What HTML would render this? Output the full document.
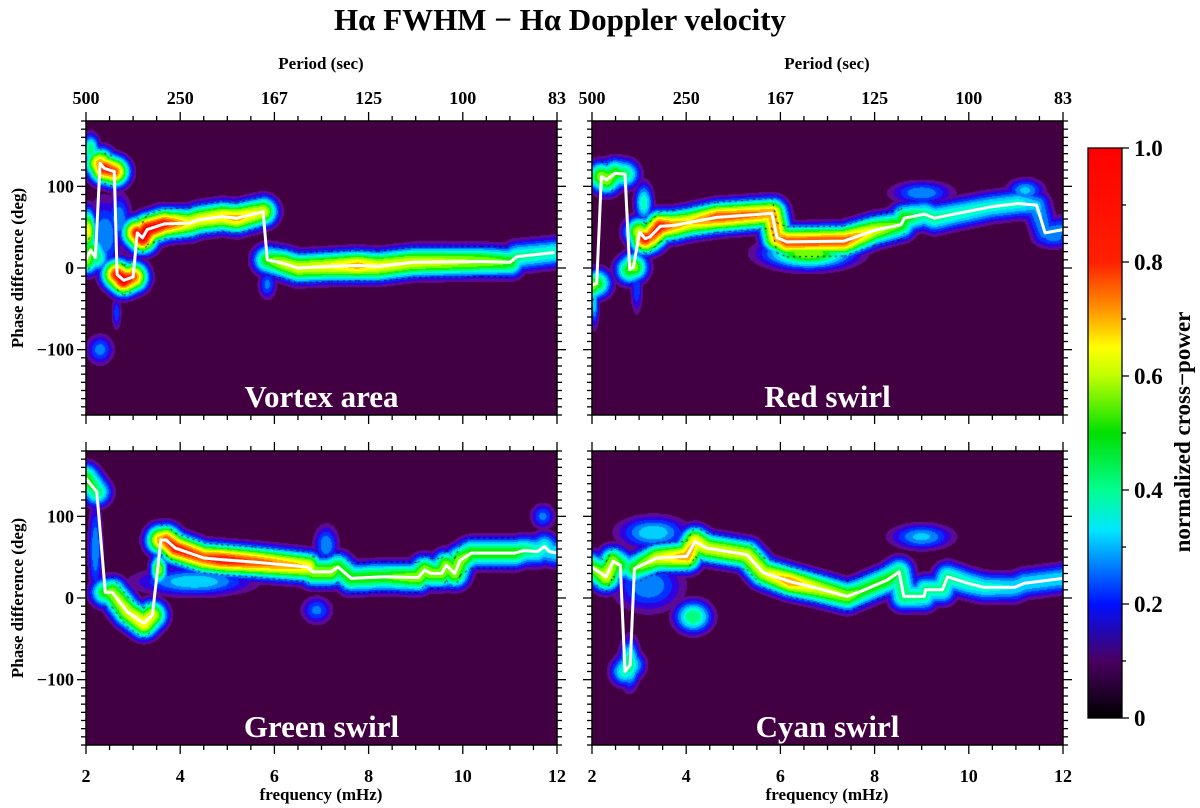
<!DOCTYPE html>
<html><head><meta charset="utf-8"><style>
html,body{margin:0;padding:0;background:#fff;}
#wrap{position:relative;width:1200px;height:808px;overflow:hidden;font-family:"Liberation Serif",serif;}
canvas,svg{position:absolute;left:0;top:0;}
</style></head><body>
<div id="wrap">
<canvas id="cv" width="1200" height="808"></canvas>
<svg id="sv" width="1200" height="808" font-family="Liberation Serif, serif" font-weight="bold">
<text x="560" y="30" font-size="31" text-anchor="middle">Hα FWHM − Hα Doppler velocity</text>
<text x="321" y="69" font-size="17" text-anchor="middle">Period (sec)</text>
<text x="827" y="69" font-size="17" text-anchor="middle">Period (sec)</text>
<text x="321" y="800" font-size="17" text-anchor="middle">frequency (mHz)</text>
<text x="827" y="800" font-size="17" text-anchor="middle">frequency (mHz)</text>
<text transform="translate(23,268) rotate(-90)" font-size="17" text-anchor="middle">Phase difference (deg)</text>
<text transform="translate(23,598) rotate(-90)" font-size="17" text-anchor="middle">Phase difference (deg)</text>
<text transform="translate(1190,432) rotate(-90)" font-size="23" text-anchor="middle">normalized cross−power</text>
</svg>
</div>
<script>
// ---------- data ----------
const panelTitles=["Vortex area","Red swirl","Green swirl","Cyan swirl"];
const freqTicks=[2,4,6,8,10,12];
const periodTicks=["500","250","167","125","100","83"];
const phaseTicks=[-100,0,100];
const cbTicks=[0,0.2,0.4,0.6,0.8,1.0];
const cbTickLabels=["0","0.2","0.4","0.6","0.8","1.0"];

const freq0=[2.0,2.1,2.2,2.3,2.39,2.6,2.66,2.8,3.0,3.09,3.2,3.3,3.66,4.2,4.4,4.9,5.2,5.76,5.85,6.17,6.5,7.2,7.77,8.2,8.95,10.4,11.0,11.15,11.95];
const phase0=[10,22,13,128,122,118,-8,-15,-11,43,37,47,54,55,59,63,61,69,10,6,0,2,3,2,7,8,7,14,19];
const power0=[.55,.5,.45,.7,.8,.75,.8,.85,.75,.8,.85,.85,.8,.62,.62,.65,.68,.6,.5,.58,.6,.62,.68,.62,.6,.55,.5,.42,.4];
const freq1=[2.0,2.1,2.2,2.31,2.49,2.7,2.8,2.88,3.01,3.13,3.23,3.45,3.73,4.08,4.65,5.82,5.93,6.14,7.35,7.99,8.56,8.63,9.06,9.27,9.77,10.48,11.05,11.44,11.62,12.0];
const phase1=[-21,-19,112,108,116,115,-2,1,44,36,38,51,52,56,62,67,37,32,33,46,53,61,66,61,67,75,79,77,43,47];
const power1=[.55,.5,.55,.55,.5,.45,.5,.55,.6,.8,.75,.8,.7,.65,.75,.7,.7,.75,.75,.6,.5,.5,.42,.42,.4,.38,.38,.32,.28,.28];
const freq2=[1.99,2.23,2.41,2.56,2.88,3.23,3.41,3.59,3.7,3.9,4.5,4.87,5.58,6.71,6.82,7.2,7.35,7.63,8.34,9.05,9.19,9.33,9.55,9.65,9.83,9.94,10.18,11.1,11.3,11.59,11.73,11.84,12.0];
const phase2=[147,130,7,7,-17,-31,-21,71,71,61,49,47,44,38,32,32,38,24,26,25,34,30,30,40,30,46,55,55,58,57,63,57,55];
const power2=[.5,.45,.5,.55,.6,.65,.6,.7,.75,.8,.75,.8,.75,.65,.55,.55,.5,.5,.5,.55,.55,.55,.55,.55,.55,.55,.5,.5,.45,.4,.38,.36,.35];
const freq3=[1.99,2.3,2.45,2.6,2.7,2.81,2.9,3.38,4.01,4.19,4.44,5.29,5.64,6.21,6.78,7.42,7.7,8.27,8.52,8.62,9.05,9.08,9.44,9.55,9.98,10.33,10.97,11.18,12.0];
const phase3=[38,26,45,40,-90,-82,36,49,51,69,61,53,31,20,12,2,8,22,32,2,2,10,10,26,18,13,13,18,24];
const power3=[.5,.6,.55,.5,.4,.4,.5,.6,.7,.65,.6,.6,.6,.7,.6,.55,.5,.5,.45,.45,.42,.42,.42,.42,.4,.38,.35,.35,.35];

// secondary power blobs: centre freq, centre phase, power, width (mHz), width (deg)
const blobFreq0=[2.05,2.1,2.3,2.65,2.4,5.85,2.7];
const blobPhase0=[45,145,-100,-55,40,-20,60];
const blobPower0=[.62,.45,.28,.24,.3,.27,.3];
const blobSF0=[.12,.14,.22,.08,.3,.15,.2];
const blobSP0=[20,14,14,16,34,14,24];
const blobFreq1=[3.1,6.6,9.0,11.2,11.8,2.95,2.05];
const blobPhase1=[80,18,92,95,38,-25,-40];
const blobPower1=[.4,.55,.3,.32,.28,.25,.35];
const blobSF1=[.15,.7,.5,.3,.35,.1,.08];
const blobSP1=[18,14,11,11,11,24,24];
const blobFreq2=[4.3,7.1,6.9,11.7,3.55,2.2];
const blobPhase2=[20,65,-15,100,35,60];
const blobPower2=[.35,.3,.27,.27,.55,.3];
const blobSF2=[.9,.2,.25,.2,.14,.12];
const blobSP2=[13,18,13,12,14,44];
const blobFreq3=[2.8,4.15,9.0,3.2,3.3];
const blobPhase3=[-80,-23,75,15,80];
const blobPower3=[.45,.45,.32,.3,.35];
const blobSF3=[.16,.3,.5,.55,.55];
const blobSP3=[22,15,12,24,15];

const FREQS=[freq0,freq1,freq2,freq3], PHASES=[phase0,phase1,phase2,phase3], POWERS=[power0,power1,power2,power3];
const BF=[blobFreq0,blobFreq1,blobFreq2,blobFreq3], BP=[blobPhase0,blobPhase1,blobPhase2,blobPhase3],
      BV=[blobPower0,blobPower1,blobPower2,blobPower3], BSF=[blobSF0,blobSF1,blobSF2,blobSF3], BSP=[blobSP0,blobSP1,blobSP2,blobSP3];

// ---------- layout ----------
const PANELS=[{x0:86,x1:557,y0:121,y1:415},{x0:592,x1:1063,y0:121,y1:415},{x0:86,x1:557,y0:451,y1:745},{x0:592,x1:1063,y0:451,y1:745}];
function xs(p,f){return p.x0+(f-2)/10*(p.x1-p.x0);}
function ys(p,ph){return p.y0+(180-ph)/360*(p.y1-p.y0);}
const LV=[[0.1,[66,0,66]],[0.15,[92,10,148]],[0.2,[48,0,224]],[0.25,[0,48,255]],[0.3,[0,128,255]],[0.35,[0,208,255]],[0.4,[0,255,208]],[0.45,[0,255,128]],[0.5,[16,240,16]],[0.55,[112,255,0]],[0.6,[200,255,0]],[0.65,[255,255,0]],[0.7,[255,176,0]],[0.75,[255,96,0]],[0.8,[255,32,0]],[9,[255,0,0]]];
function col(v){for(const l of LV){if(v<l[0])return l[1];}return [255,0,0];}

const cv=document.getElementById('cv'), ctx=cv.getContext('2d');
const SIG=11;
PANELS.forEach((p,k)=>{
  const F=FREQS[k],P=PHASES[k],W=POWERS[k];
  const segs=[];
  for(let i=0;i<F.length-1;i++){
    if(Math.abs(P[i+1]-P[i])>35)continue;
    segs.push([xs(p,F[i]),ys(p,P[i]),xs(p,F[i+1]),ys(p,P[i+1]),W[i],W[i+1]]);
  }
  const blobs=BF[k].map((f,i)=>[xs(p,f),ys(p,BP[k][i]),BV[k][i],BSF[k][i]*47.1,BSP[k][i]*0.8167]);
  const w=p.x1-p.x0,h=p.y1-p.y0;
  const img=ctx.createImageData(w,h);
  for(let j=0;j<h;j++){const py=p.y0+j+0.5;
    for(let i=0;i<w;i++){const px=p.x0+i+0.5;
      let v=0.08;
      for(const s of segs){
        const dx=s[2]-s[0],dy=s[3]-s[1];
        let t=((px-s[0])*dx+(py-s[1])*dy)/(dx*dx+dy*dy);t=t<0?0:t>1?1:t;
        const ex=s[0]+t*dx-px,ey=s[1]+t*dy-py;const d2=ex*ex+ey*ey;
        if(d2>1600)continue;
        const c=(s[4]+t*(s[5]-s[4]))*Math.exp(-d2/(2*SIG*SIG));
        if(c>v)v=c;
      }
      for(const b of blobs){
        const ex=(px-b[0])/b[3],ey=(py-b[1])/b[4];
        const c=b[2]*Math.exp(-(ex*ex+ey*ey)/2);if(c>v)v=c;
      }
      const c=col(v),o=(j*w+i)*4;
      img.data[o]=c[0];img.data[o+1]=c[1];img.data[o+2]=c[2];img.data[o+3]=255;
    }}
  ctx.putImageData(img,p.x0,p.y0);
  // dotted confidence contours
  ctx.save();ctx.beginPath();ctx.rect(p.x0,p.y0,w,h);ctx.clip();
  ctx.strokeStyle='#000';ctx.lineWidth=1;ctx.setLineDash([2,4]);
  for(const off of [-15,15]){
    for(const s of segs){
      if((s[4]+s[5])/2<0.5)continue;
      ctx.beginPath();ctx.moveTo(s[0],s[1]+off);ctx.lineTo(s[2],s[3]+off);ctx.stroke();
    }
  }
  ctx.restore();
});
// colorbar
const cb={x0:1088,x1:1122,y0:148,y1:718};
const g=ctx.createLinearGradient(0,cb.y1,0,cb.y0);
[[0,'#000000'],[0.1,'#4a0060'],[0.2,'#0010ff'],[0.33,'#00e8ff'],[0.4,'#00ff90'],[0.5,'#00e000'],[0.6,'#c0ff00'],[0.65,'#ffff00'],[0.72,'#ff9000'],[0.8,'#ff2000'],[1,'#ff0000']].forEach(s=>g.addColorStop(s[0],s[1]));
ctx.fillStyle=g;ctx.fillRect(cb.x0,cb.y0,cb.x1-cb.x0,cb.y1-cb.y0);

// ---------- SVG overlay ----------
const NS='http://www.w3.org/2000/svg', sv=document.getElementById('sv');
function el(tag,attrs,text){const e=document.createElementNS(NS,tag);for(const a in attrs)e.setAttribute(a,attrs[a]);if(text!==undefined)e.textContent=text;sv.appendChild(e);return e;}
function tick(x1,y1,x2,y2,name){const e=el('line',{x1:x1,y1:y1,x2:x2,y2:y2,stroke:'#000','stroke-width':1.3});
  
  }
PANELS.forEach((p,k)=>{
  const pts=FREQS[k].map((f,i)=>xs(p,f).toFixed(1)+','+ys(p,PHASES[k][i]).toFixed(1)).join(' ');
  const pl=el('polyline',{points:pts,fill:'none',stroke:'#fff','stroke-width':3,'stroke-linejoin':'round'});
  
  
  const fr=el('rect',{x:p.x0,y:p.y0,width:p.x1-p.x0,height:p.y1-p.y0,fill:'none',stroke:'#000','stroke-width':1.5});
  
  
  const lb=el('text',{x:(p.x0+p.x1)/2,y:p.y1-8,'font-size':31,fill:'#fff','text-anchor':'middle'},panelTitles[k]);
  
  
  for(let f=2;f<=12.001;f+=0.5){
    const x=xs(p,f),major=Math.abs(f-Math.round(f/2)*2)<1e-6;const L=major?9:5;
    tick(x,p.y1,x,p.y1+L,'x-tick');tick(x,p.y0,x,p.y0-L,'x-tick-top');
  }
  for(let ph=-180;ph<=180;ph+=10){
    const y=ys(p,ph),major=ph%100===0;const L=major?9:5;
    tick(p.x0,y,p.x0-L,y,'y-tick');tick(p.x1,y,p.x1+L,y,'y-tick-right');
  }
  if(k<2){periodTicks.forEach((t,i)=>{const e=el('text',{x:xs(p,freqTicks[i]),y:104,'font-size':18,'text-anchor':'middle'},t);
    
    });}
  if(k>=2){freqTicks.forEach(f=>{const e=el('text',{x:xs(p,f),y:782,'font-size':18,'text-anchor':'middle'},String(f));
    
    });}
  if(k%2===0){phaseTicks.forEach(ph=>{const e=el('text',{x:p.x0-12,y:ys(p,ph)+6,'font-size':18,'text-anchor':'end'},ph<0?'−'+Math.abs(ph):String(ph));
    
    });}
});
const cbf=el('rect',{x:cb.x0,y:cb.y0,width:cb.x1-cb.x0,height:cb.y1-cb.y0,fill:'none',stroke:'#000','stroke-width':1.3});


for(let v=0;v<=1.0001;v+=0.1){const y=cb.y1-v*(cb.y1-cb.y0);const major=Math.round(v*10)%2===0;
  tick(cb.x1,y,cb.x1+(major?7:4),y,'colorbar-tick');}
cbTicks.forEach((v,i)=>{const e=el('text',{x:cb.x1+12,y:cb.y1-v*(cb.y1-cb.y0)+8,'font-size':23},cbTickLabels[i]);
  
  });
</script>
</body></html>
